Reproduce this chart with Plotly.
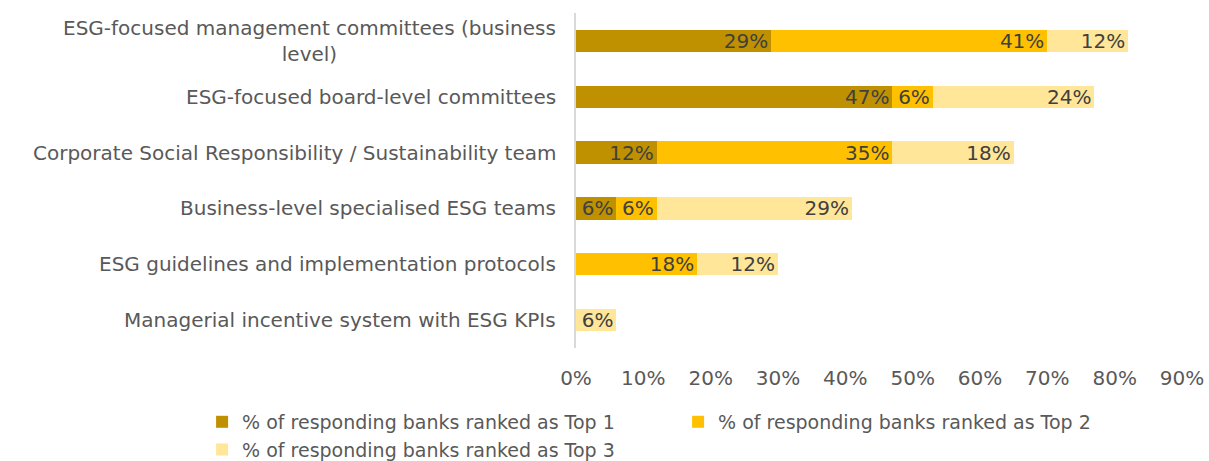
import plotly.graph_objects as go

# Governance structures and their share of responding banks, by rank
categories = [
    "ESG-focused management committees (business<br>level)",
    "ESG-focused board-level committees",
    "Corporate Social Responsibility / Sustainability team",
    "Business-level specialised ESG teams",
    "ESG guidelines and implementation protocols",
    "Managerial incentive system with ESG KPIs",
]
top1 = [29, 47, 12, 6, 0, 0]
top2 = [41, 6, 35, 6, 18, 0]
top3 = [12, 24, 18, 29, 12, 6]

series_names = [
    "% of responding banks ranked as Top 1",
    "% of responding banks ranked as Top 2",
    "% of responding banks ranked as Top 3",
]
colors = ["#BF9000", "#FFC000", "#FFE699"]

FONT = "DejaVu Sans"
FS = 20
LABEL_GREY = "#595959"

fig = go.Figure()
for name, vals, col in zip(series_names, [top1, top2, top3], colors):
    fig.add_trace(go.Bar(
        y=categories,
        x=vals,
        name=name,
        orientation="h",
        marker=dict(color=col, line=dict(width=0)),
        text=[f"{v}%" if v else "" for v in vals],
        textposition="inside",
        insidetextanchor="end",
        constraintext="none",
        textfont=dict(family=FONT, size=FS, color="#404040"),
        hoverinfo="skip",
    ))

# Category labels drawn as annotations so the wrapped label stays centred
for cat in categories:
    fig.add_annotation(
        x=0, xref="paper", y=cat, yref="y",
        text=cat, showarrow=False,
        xanchor="right", align="center", xshift=-18,
        font=dict(family=FONT, size=FS, color=LABEL_GREY),
    )

fig.update_layout(
    width=1209, height=461,
    margin=dict(l=576, r=27, t=13, b=113, autoexpand=False),
    barmode="stack",
    bargap=0.6,
    plot_bgcolor="white",
    paper_bgcolor="white",
    font=dict(family=FONT, size=FS, color=LABEL_GREY),
    xaxis=dict(
        range=[0, 90], dtick=10, ticksuffix="%",
        showgrid=False, zeroline=False, showline=False,
        ticks="", ticklabelstandoff=16,
        tickfont=dict(family=FONT, size=FS, color=LABEL_GREY),
    ),
    yaxis=dict(
        autorange="reversed", showticklabels=False,
        showgrid=False, zeroline=False,
        showline=True, linecolor="#D9D9D9", linewidth=2,
        ticks="",
    ),
    legend=dict(
        orientation="h",
        xref="paper", yref="paper",
        x=-0.617, y=-0.164, xanchor="left", yanchor="top",
        entrywidth=431, entrywidthmode="pixels",
        traceorder="normal",
        font=dict(family=FONT, size=19, color=LABEL_GREY),
        tracegroupgap=0, itemclick=False,
    ),
    showlegend=True,
)

fig.write_html("out.html")
